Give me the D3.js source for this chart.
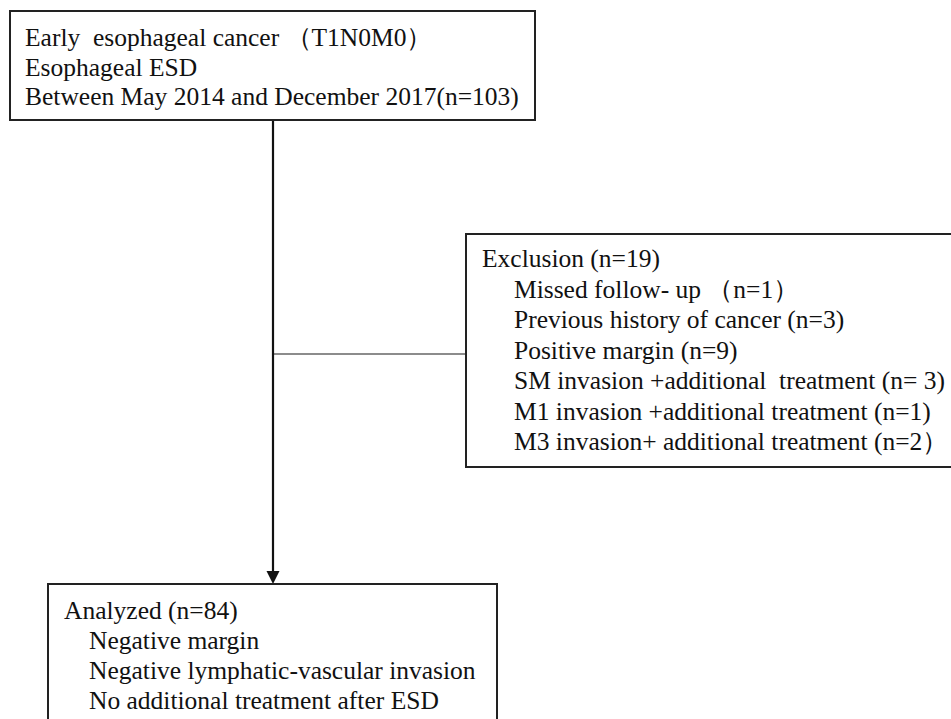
<!DOCTYPE html>
<html>
<head>
<meta charset="utf-8">
<script src="https://cdn.jsdelivr.net/npm/d3@7"></script>
<style>
  html, body { margin: 0; padding: 0; background: #fff; }
</style>
</head>
<body>
<svg id="chart" width="951" height="719"></svg>
<script>
// Flowchart content
const topLines = [
  "Early  esophageal cancer （T1N0M0）",
  "Esophageal ESD",
  "Between May 2014 and December 2017(n=103)"
];
const exclusionTitle = "Exclusion (n=19)";
const exclusionItems = [
  "Missed follow- up （n=1）",
  "Previous history of cancer (n=3)",
  "Positive margin (n=9)",
  "SM invasion +additional  treatment (n= 3)",
  "M1 invasion +additional treatment (n=1)",
  "M3 invasion+ additional treatment (n=2）"
];
const analyzedTitle = "Analyzed (n=84)";
const analyzedItems = [
  "Negative margin",
  "Negative lymphatic-vascular invasion",
  "No additional treatment after ESD"
];

const FONT = "Liberation Serif";
const svg = d3.select("#chart");

function drawBox(x, y, w, h) {
  svg.append("rect")
    .attr("x", x).attr("y", y).attr("width", w).attr("height", h)
    .attr("fill", "#fff").attr("stroke", "#222").attr("stroke-width", 2);
}
function drawLines(lines, x, y0, dy) {
  svg.append("g").selectAll("text").data(lines).join("text")
    .attr("x", x).attr("y", (d, i) => y0 + i * dy)
    .attr("font-family", FONT)
    .attr("font-size", 25.5)
    .attr("fill", "#111")
    .attr("xml:space", "preserve")
    .text(d => d);
}

// connectors
const cx = 273;
svg.append("line").attr("x1", cx).attr("x2", 466).attr("y1", 354).attr("y2", 354)
  .attr("stroke", "#666").attr("stroke-width", 1.5);
svg.append("line").attr("x1", cx).attr("x2", cx).attr("y1", 120).attr("y2", 573)
  .attr("stroke", "#111").attr("stroke-width", 2.2);
svg.append("path").attr("d", d3.line()([[cx - 6.5, 571], [cx + 6.5, 571], [cx, 584]]) + "Z")
  .attr("fill", "#111");

// top box
drawBox(10, 11, 525, 109);
drawLines(topLines, 25, 46, 29.5);

// exclusion box
drawBox(466, 234, 500, 233);
drawLines([exclusionTitle], 482, 267, 30.5);
drawLines(exclusionItems, 514, 297.5, 30.5);

// analyzed box
drawBox(48, 584, 449, 160);
drawLines([analyzedTitle], 64, 619, 30);
drawLines(analyzedItems, 89, 649, 30);
</script>
</body>
</html>
